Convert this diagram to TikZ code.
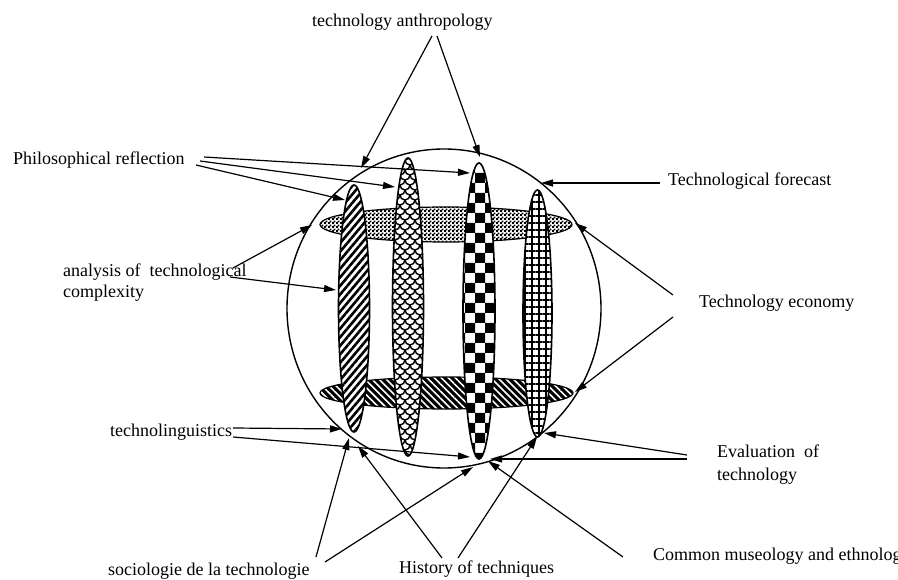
\documentclass[tikz,border=0pt]{standalone}
\usepackage{fontspec}
\setmainfont{Liberation Serif}
\usetikzlibrary{patterns,patterns.meta,shapes.geometric,arrows.meta}

\pgfdeclarepatternformonly{bigchecker}{\pgfpointorigin}{\pgfqpoint{25pt}{27pt}}{\pgfqpoint{20pt}{20pt}}{%
  \pgfpathrectangle{\pgfqpoint{5pt}{7pt}}{\pgfqpoint{10pt}{10pt}}%
  \pgfpathrectangle{\pgfqpoint{15pt}{17pt}}{\pgfqpoint{10pt}{10pt}}%
  \pgfusepath{fill}}

\pgfdeclarepatternformonly{finechecker}{\pgfpointorigin}{\pgfqpoint{4pt}{4pt}}{\pgfqpoint{4pt}{4pt}}{%
  \pgfpathrectangle{\pgfpointorigin}{\pgfqpoint{2.2pt}{2.2pt}}%
  \pgfpathrectangle{\pgfqpoint{2pt}{2pt}}{\pgfqpoint{2.2pt}{2.2pt}}%
  \pgfusepath{fill}}

\pgfdeclarepatternformonly{fishscales}{\pgfqpoint{-1pt}{-1pt}}{\pgfqpoint{11pt}{11pt}}{\pgfqpoint{10pt}{10pt}}{%
  \pgfsetlinewidth{1.4pt}%
  \pgfpathmoveto{\pgfqpoint{0pt}{5pt}}%
  \pgfpatharc{180}{360}{5pt}%
  \pgfpathmoveto{\pgfqpoint{0pt}{5pt}}%
  \pgfpatharc{270}{360}{5pt}%
  \pgfpathmoveto{\pgfqpoint{10pt}{5pt}}%
  \pgfpatharc{270}{180}{5pt}%
  \pgfusepath{stroke}}

\tikzset{
  lab/.style={inner sep=0pt, font=\fontsize{18}{21}\selectfont},
  con/.style={line width=1.2pt, -{Triangle[length=12pt,width=7pt]}},
  vell/.style={ellipse, draw, line width=1.6pt, inner sep=0pt, preaction={fill=white}},
  hell/.style={ellipse, draw, line width=1.2pt, inner sep=0pt},
}

\begin{document}
\begin{tikzpicture}[x=1pt,y=-1pt]
\useasboundingbox (0,0) rectangle (898,580);
\clip (0,0) rectangle (898,580);

% big sphere
\node[ellipse, draw, line width=1.4pt, inner sep=0pt, minimum width=314pt, minimum height=319pt] (sphere) at (444,308.5) {};

% horizontal rings
\node[hell, minimum width=252pt, minimum height=35pt, preaction={fill=white}, pattern=finechecker] (h1) at (446,224.5) {};
\node[hell, minimum width=253pt, minimum height=32pt, preaction={fill=black}, pattern={Lines[angle=-45,distance=5pt,line width=1.6pt]}, pattern color=white] (h2) at (446.5,393) {};

% vertical spindles
\node[vell, minimum width=31pt, minimum height=247pt, pattern={Lines[angle=50,distance=5.5pt,line width=2.6pt]}] (e1) at (354,308.5) {};
\node[vell, minimum width=31pt, minimum height=298pt, pattern=fishscales] (e2) at (408,307) {};
\node[vell, minimum width=32pt, minimum height=296pt, pattern=bigchecker] (e3) at (479,311) {};
\node[vell, minimum width=29pt, minimum height=247pt, pattern={Hatch[angle=0,distance=7pt,line width=1.8pt]}] (e4) at (537.5,313.5) {};

% labels
\node[lab, anchor=base west] (anth) at (312,27) {technology anthropology};
\node[lab, anchor=base west] (phil) at (13,165) {Philosophical reflection};
\node[lab, anchor=base west] (fore) at (668,186) {Technological forecast};
\node[lab, anchor=north west, align=left] (anal) at (63,263.5) {analysis of\ \ technological\\complexity};
\node[lab, anchor=base west] (econ) at (699,308) {Technology economy};
\node[lab, anchor=base west] (ling) at (110,436) {technolinguistics};
\node[lab, anchor=north west, align=left] (eval) at (717,444.5) {Evaluation\ \ of\\[2pt]technology};
\node[lab, anchor=base west] (soci) at (108,575) {sociologie de la technologie};
\node[lab, anchor=base west] (hist) at (399,573) {History of techniques};
\node[lab, anchor=base west] (muse) at (653,560) {Common museology and ethnology};

% connector ends
\coordinate (sA1) at (432,36);  \coordinate (tA1) at (361,168);
\coordinate (sA2) at (437,36);  \coordinate (tA2) at (480,157);
\coordinate (sP1) at (204,157); \coordinate (tP1) at (470,173);
\coordinate (sP2) at (200,161); \coordinate (tP2) at (395,187);
\coordinate (sP3) at (196,165); \coordinate (tP3) at (345,200);
\coordinate (sF)  at (660,183); \coordinate (tF)  at (541,183);
\coordinate (sN1) at (233,268); \coordinate (tN1) at (312,225);
\coordinate (sN2) at (230,277); \coordinate (tN2) at (336,290);
\coordinate (sE1) at (673,295); \coordinate (tE1) at (575,223);
\coordinate (sE2) at (673,317); \coordinate (tE2) at (575,392);
\coordinate (sL1) at (233,428); \coordinate (tL1) at (342,429);
\coordinate (sL2) at (233,437); \coordinate (tL2) at (470,457);
\coordinate (sS1) at (316,557); \coordinate (tS1) at (349,438);
\coordinate (sS2) at (325,562); \coordinate (tS2) at (473,467);
\coordinate (sH1) at (442,558); \coordinate (tH1) at (358,446);
\coordinate (sH2) at (458,558); \coordinate (tH2) at (537,437);
\coordinate (sV1) at (687,455); \coordinate (tV1) at (544,433);
\coordinate (sV2) at (687,459); \coordinate (tV2) at (490,459);
\coordinate (sM)  at (623,557); \coordinate (tM)  at (488,461);

% connectors
\draw[con] (sA1) -- (tA1);
\draw[con] (sA2) -- (tA2);
\draw[con] (sP1) -- (tP1);
\draw[con] (sP2) -- (tP2);
\draw[con] (sP3) -- (tP3);
\draw[con] (sF) -- (tF);
\draw[con] (sN1) -- (tN1);
\draw[con] (sN2) -- (tN2);
\draw[con] (sE1) -- (tE1);
\draw[con] (sE2) -- (tE2);
\draw[con] (sL1) -- (tL1);
\draw[con] (sL2) -- (tL2);
\draw[con] (sS1) -- (tS1);
\draw[con] (sS2) -- (tS2);
\draw[con] (sH1) -- (tH1);
\draw[con] (sH2) -- (tH2);
\draw[con] (sV1) -- (tV1);
\draw[con] (sV2) -- (tV2);
\draw[con] (sM) -- (tM);
\end{tikzpicture}
\end{document}
